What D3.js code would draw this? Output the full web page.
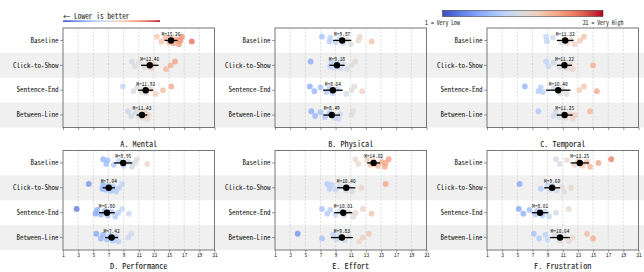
<!DOCTYPE html>
<html>
<head>
<meta charset="utf-8">
<script src="https://cdn.jsdelivr.net/npm/d3@7"></script>
<style>
  body { margin: 0; background: #fff; }
  svg { display: block; }
  text { font-family: "Noto Sans Mono CJK SC", "Liberation Mono", monospace; fill: #111; }
</style>
</head>
<body>
<svg width="644" height="272"></svg>
<script>
const categories = ["Baseline", "Click-to-Show", "Sentence-End", "Between-Line"]
const panelTitles = ["A. Mental", "B. Physical", "C. Temporal", "D. Performance", "E. Effort", "F. Frustration"]
const tickValues = [1, 3, 5, 7, 9, 11, 13, 15, 17, 19, 21]

// individual ratings, one list per condition
const mentalScores = [
    [13.4, 14.0, 14.6, 15.0, 15.3, 15.6, 16.0, 16.3, 16.5, 16.7, 18.0],
    [10.1, 10.5, 11.0, 11.8, 12.3, 12.6, 13.0, 14.6, 15.2, 15.8],
    [8.9, 10.3, 10.8, 11.4, 11.6, 12.0, 12.5, 13.2, 14.2, 15.3],
    [9.6, 10.0, 10.6, 11.0, 11.3, 11.6, 11.9, 12.1, 12.3, 11.8]
]
const physicalScores = [
    [7.2, 8.2, 8.3, 9.0, 9.5, 10.0, 10.5, 11.0, 12.0, 12.2, 13.75],
    [5.7, 8.3, 8.5, 8.8, 9.2, 9.6, 10.0, 10.5, 11.1, 11.6],
    [5.6, 6.2, 7.0, 7.8, 8.2, 8.6, 9.2, 10.4, 11.1, 11.5, 12.5],
    [5.8, 6.3, 7.0, 7.6, 8.2, 8.9, 9.6, 9.4, 11.1, 11.3]
]
const temporalScores = [
    [8.8, 8.9, 9.7, 10.8, 11.2, 11.6, 12.1, 12.6, 13.3, 13.8],
    [8.8, 9.1, 9.8, 10.6, 11.2, 11.6, 12.0, 12.3, 15.0],
    [6.0, 7.8, 8.1, 8.4, 9.8, 10.6, 11.0, 11.5, 13.2, 13.8, 15.5],
    [7.8, 9.8, 10.1, 10.6, 11.0, 11.4, 12.0, 12.3, 12.6, 14.6]
]
const performanceScores = [
    [6.3, 6.7, 6.9, 7.7, 8.4, 9.0, 9.6, 10.1, 10.5, 10.75, 12.1],
    [4.4, 6.2, 6.3, 6.7, 7.0, 7.3, 7.6, 8.0, 8.4, 8.8],
    [2.8, 5.3, 5.5, 6.0, 6.5, 6.9, 7.4, 7.9, 8.3, 8.8, 9.7],
    [5.4, 6.0, 6.3, 6.8, 7.2, 7.6, 8.0, 8.3, 9.6, 10.0]
]
const effortScores = [
    [11.6, 12.0, 13.2, 13.6, 14.0, 14.6, 15.1, 15.5, 15.6, 16.0],
    [7.9, 8.2, 8.5, 9.0, 9.6, 10.4, 10.6, 11.2, 12.4, 15.6],
    [7.2, 7.9, 8.3, 9.0, 9.6, 10.1, 10.6, 11.35, 11.65, 12.6, 13.75],
    [4.0, 7.2, 8.7, 9.1, 9.5, 10.2, 10.8, 12.1, 12.6, 13.4]
]
const frustrationScores = [
    [10.1, 10.6, 11.55, 12.55, 13.0, 13.6, 14.2, 14.6, 15.7, 17.4],
    [5.3, 8.1, 9.0, 9.35, 9.6, 10.2, 10.9, 11.2, 12.1],
    [5.2, 5.8, 6.6, 7.4, 7.6, 8.3, 8.6, 9.2, 10.1, 11.8],
    [7.2, 7.9, 8.7, 9.0, 10.0, 10.6, 11.2, 11.8, 12.3, 14.2, 15.0]
]

// means as printed on the chart, and half width of the error bar
const mentalMeans = [15.26, 12.46, 11.92, 11.43]
const physicalMeans = [9.87, 9.18, 8.64, 8.49]
const temporalMeans = [11.32, 11.22, 10.40, 11.25]
const performanceMeans = [8.95, 7.04, 6.80, 7.42]
const effortMeans = [14.02, 10.40, 10.01, 9.83]
const frustrationMeans = [13.25, 9.60, 8.01, 10.64]

const mentalErr = [0.85, 1.15, 1.0, 0.7]
const physicalErr = [1.2, 1.0, 1.3, 1.1]
const temporalErr = [1.1, 1.0, 1.6, 1.05]
const performanceErr = [1.2, 0.8, 1.05, 0.85]
const effortErr = [0.85, 1.2, 1.2, 1.45]
const frustrationErr = [1.2, 1.05, 1.1, 1.3]

const coolwarm = ["#3b4cc0", "#5977e3", "#7b9ff9", "#9ebeff", "#c0d4f5", "#dddcdc",
    "#f2cbb7", "#f7ac8e", "#ee8468", "#d65244", "#b40426"]

const panels = [
    { title: panelTitles[0], scores: mentalScores, means: mentalMeans, err: mentalErr },
    { title: panelTitles[1], scores: physicalScores, means: physicalMeans, err: physicalErr },
    { title: panelTitles[2], scores: temporalScores, means: temporalMeans, err: temporalErr },
    { title: panelTitles[3], scores: performanceScores, means: performanceMeans, err: performanceErr },
    { title: panelTitles[4], scores: effortScores, means: effortMeans, err: effortErr },
    { title: panelTitles[5], scores: frustrationScores, means: frustrationMeans, err: frustrationErr }
]

const svg = d3.select("svg"),
    width = +svg.attr("width")

const color = d3.scaleLinear()
    .domain(d3.range(coolwarm.length).map(i => 1 + i * 20 / (coolwarm.length - 1)))
    .range(coolwarm)
    .interpolate(d3.interpolateRgb)

const colLeft = [63, 275, 487], plotW = 151.5
const rowTop = [28, 150.5], plotH = 99.5

const defs = svg.append("defs")
const grad = defs.append("linearGradient").attr("id", "cw")
coolwarm.forEach((c, i) => {
    grad.append("stop").attr("offset", (i / (coolwarm.length - 1) * 100) + "%").attr("stop-color", c)
})

// full width grey stripes behind every other condition
rowTop.forEach(top => {
    const y = d3.scaleBand().domain(categories).range([top, top + plotH])
    svg.append("g").selectAll("rect")
        .data(categories.filter((c, i) => i % 2 == 1))
        .enter().append("rect")
        .attr("x", 0).attr("width", width)
        .attr("y", d => y(d)).attr("height", y.bandwidth())
        .attr("fill", "#f0f0f0")
})

// deterministic vertical spread of the dots
function jitter(i) {
    return ((i * 5) % 9 - 4) * 0.95
}

panels.forEach((p, k) => {
    const left = colLeft[k % 3], top = rowTop[Math.floor(k / 3)]
    const x = d3.scaleLinear().domain([1, 21]).range([left, left + plotW])
    const y = d3.scaleBand().domain(categories).range([top, top + plotH])
    const g = svg.append("g")

    g.append("g").selectAll("line")
        .data(tickValues.slice(1, -1))
        .enter().append("line")
        .attr("x1", d => x(d)).attr("x2", d => x(d))
        .attr("y1", top).attr("y2", top + plotH)
        .attr("stroke", "#c8c8c8").attr("stroke-width", 0.6)
        .attr("stroke-dasharray", "2,1.5")

    categories.forEach((cat, ci) => {
        const cy = y(cat) + y.bandwidth() / 2
        g.append("g").selectAll("circle")
            .data(p.scores[ci])
            .enter().append("circle")
            .attr("cx", d => x(d))
            .attr("cy", (d, i) => cy + jitter(i))
            .attr("r", 2.9)
            .attr("fill", d => color(d))
            .attr("fill-opacity", 0.75)

        const m = p.means[ci], e = p.err[ci]
        g.append("line")
            .attr("x1", x(m - e)).attr("x2", x(m + e))
            .attr("y1", cy).attr("y2", cy)
            .attr("stroke", "#000").attr("stroke-width", 1.3)
        g.append("circle")
            .attr("cx", x(m)).attr("cy", cy).attr("r", 3.2)
            .attr("fill", "#000")
        g.append("text")
            .attr("x", x(m)).attr("y", cy - 4.6)
            .attr("text-anchor", "middle")
            .attr("font-size", 5.4)
            .text("M=" + m.toFixed(2))
    })

    g.append("rect")
        .attr("x", left).attr("y", top)
        .attr("width", plotW).attr("height", plotH)
        .attr("fill", "none").attr("stroke", "#777").attr("stroke-width", 1)

    const yAxis = g.append("g")
        .attr("transform", `translate(${left},0)`)
        .call(d3.axisLeft(y).tickSize(3).tickPadding(1.5))
    yAxis.select(".domain").remove()
    yAxis.selectAll("line").attr("stroke", "#555").attr("stroke-width", 0.6)
    yAxis.selectAll("text").attr("font-size", 7).attr("font-family", null).attr("fill", "#222")

    const xAxis = g.append("g")
        .attr("transform", `translate(0,${top + plotH})`)
        .call(d3.axisBottom(x).tickValues(tickValues).tickSize(2.5).tickPadding(1))
    xAxis.select(".domain").remove()
    xAxis.selectAll("line").attr("stroke", "#555").attr("stroke-width", 0.6)
    xAxis.selectAll("text").attr("font-size", 5.2).attr("font-family", null).attr("fill", "#222")
    if (k < 3) xAxis.selectAll("text").remove()

    g.append("text")
        .attr("x", left + plotW / 2)
        .attr("y", top + plotH + 19)
        .attr("text-anchor", "middle")
        .attr("font-size", 8.2)
        .text(p.title)
})

// "lower is better" hint
svg.append("text")
    .attr("x", 63).attr("y", 18.5)
    .attr("font-size", 7.4)
    .text("\u2190 Lower is better")
svg.append("rect")
    .attr("x", 63).attr("y", 20.3).attr("width", 97).attr("height", 1.6)
    .attr("fill", "url(#cw)")

// colour bar
const cbX = d3.scaleLinear().domain([1, 21]).range([442.5, 603])
svg.append("rect")
    .attr("x", cbX(1)).attr("y", 10.3)
    .attr("width", cbX(21) - cbX(1)).attr("height", 6.3)
    .attr("fill", "url(#cw)").attr("stroke", "#333").attr("stroke-width", 0.5)
svg.append("text")
    .attr("x", cbX(1)).attr("y", 24.8)
    .attr("text-anchor", "middle").attr("font-size", 5.8)
    .text("1 = Very Low")
svg.append("text")
    .attr("x", cbX(21)).attr("y", 24.8)
    .attr("text-anchor", "middle").attr("font-size", 5.8)
    .text("21 = Very High")
</script>
</body>
</html>
